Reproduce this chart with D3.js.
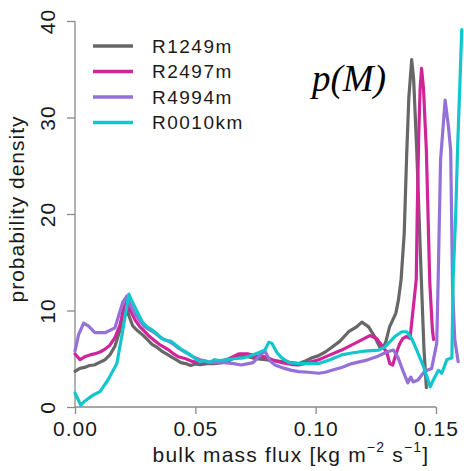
<!DOCTYPE html>
<html>
<head>
<meta charset="utf-8">
<script src="https://cdn.jsdelivr.net/npm/d3@7"></script>
<style>
  body { margin: 0; background: #fff; }
  svg { display: block; }
  text { font-family: "Liberation Sans", Arial, Helvetica, sans-serif; fill: #1a1a1a; }
</style>
</head>
<body>
<script>
// series labels and colours (legend order)
const seriesNames = ["R1249m", "R2497m", "R4994m", "R0010km"];
const seriesColors = ["#676767", "#d0259a", "#9470d8", "#11c6cc"];

const xTicks = [0, 0.05, 0.10, 0.15];
const yTicks = [0, 10, 20, 30, 40];

// [bulk mass flux, probability density]
const r1249m = [
  [0, 3.7], [0.002, 4.0], [0.004, 4.1], [0.006, 4.3], [0.008, 4.35], [0.010, 4.6],
  [0.0125, 4.9], [0.0145, 5.4], [0.0166, 6.3], [0.0187, 8.0], [0.0200, 10.0], [0.0212, 10.6],
  [0.0222, 9.6], [0.024, 8.4], [0.026, 7.9], [0.028, 7.5], [0.030, 7.0], [0.032, 6.5],
  [0.034, 6.2], [0.036, 5.8], [0.038, 5.5], [0.040, 5.2], [0.042, 4.9], [0.044, 4.6],
  [0.046, 4.5], [0.048, 4.3], [0.050, 4.45], [0.052, 4.4], [0.055, 4.5], [0.058, 4.5],
  [0.061, 4.6], [0.064, 4.8], [0.067, 5.2], [0.069, 5.4], [0.072, 5.2], [0.075, 5.0],
  [0.079, 4.9], [0.082, 4.8], [0.086, 4.7], [0.090, 4.6], [0.093, 4.5], [0.096, 4.8],
  [0.0985, 5.1], [0.101, 5.3], [0.104, 5.7], [0.107, 6.25], [0.110, 6.8], [0.1137, 7.8],
  [0.1170, 8.3], [0.1192, 8.8], [0.1220, 8.3], [0.1245, 7.3], [0.1265, 6.25], [0.1280, 6.1],
  [0.1292, 6.8], [0.1307, 8.3], [0.1320, 9.0], [0.1333, 9.7], [0.1344, 11.1], [0.1355, 13.2],
  [0.1368, 18.0], [0.1378, 26.0], [0.1387, 32.0], [0.1399, 36.0], [0.1407, 34.0],
  [0.1420, 26.6], [0.1439, 13.2], [0.1450, 6.0], [0.1460, 2.0]
];

const r2497m = [
  [0, 5.5], [0.0021, 4.9], [0.004, 5.2], [0.0062, 5.4], [0.008, 5.5], [0.0104, 5.7],
  [0.0125, 6.0], [0.0145, 6.4], [0.0166, 7.2], [0.0187, 8.5], [0.0205, 10.4], [0.0216, 11.0],
  [0.023, 10.0], [0.025, 9.0], [0.027, 8.3], [0.029, 7.8], [0.031, 7.3], [0.033, 6.9],
  [0.035, 6.5], [0.037, 6.2], [0.039, 5.9], [0.041, 5.5], [0.043, 5.2], [0.046, 5.0],
  [0.049, 4.7], [0.052, 4.6], [0.056, 4.6], [0.060, 4.7], [0.064, 5.0], [0.068, 5.5],
  [0.072, 5.5], [0.075, 5.3], [0.079, 5.2], [0.082, 4.9], [0.086, 4.6], [0.090, 4.4],
  [0.093, 4.35], [0.097, 4.6], [0.1013, 4.9], [0.105, 5.3], [0.1108, 5.9], [0.1179, 6.8],
  [0.1225, 7.4], [0.1253, 7.1], [0.1295, 5.7], [0.1308, 4.5], [0.1320, 4.35], [0.1335, 5.6],
  [0.1350, 6.6], [0.1362, 7.1], [0.1378, 7.3], [0.1392, 7.1], [0.1403, 9.7], [0.1418, 13.2],
  [0.1422, 20.0], [0.1428, 28.0], [0.1434, 33.0], [0.1440, 35.1], [0.1448, 33.0],
  [0.1460, 26.6], [0.1474, 13.0], [0.1485, 8.0], [0.1490, 7.0]
];

const r4994m = [
  [0, 5.8], [0.0015, 7.5], [0.0036, 8.7], [0.0055, 8.4], [0.0083, 7.7], [0.0125, 7.7],
  [0.0166, 8.2], [0.0199, 10.9], [0.0216, 11.5], [0.023, 10.6], [0.025, 9.6], [0.027, 8.9],
  [0.029, 8.3], [0.031, 8.0], [0.033, 7.7], [0.035, 7.3], [0.037, 7.0], [0.039, 6.8],
  [0.041, 6.5], [0.043, 6.1], [0.045, 5.8], [0.047, 5.5], [0.049, 5.2], [0.052, 4.9],
  [0.055, 4.7], [0.058, 4.6], [0.062, 4.6], [0.066, 4.5], [0.069, 4.35], [0.072, 4.5],
  [0.074, 4.6], [0.0775, 5.5], [0.0789, 5.8], [0.081, 4.8], [0.0831, 4.35], [0.087, 4.0],
  [0.090, 3.8], [0.093, 3.66], [0.097, 3.6], [0.1013, 3.5], [0.104, 3.6], [0.1067, 3.8],
  [0.1108, 4.1], [0.1150, 4.5], [0.1204, 4.8], [0.1253, 5.2], [0.1295, 5.7], [0.1323, 5.9],
  [0.1341, 5.2], [0.1362, 3.8], [0.1383, 2.5], [0.1395, 3.1], [0.1405, 2.6], [0.1425, 2.8],
  [0.1453, 3.7], [0.1482, 4.0], [0.1503, 6.6], [0.1509, 13.2], [0.1519, 25.6],
  [0.1538, 31.8], [0.1552, 29.0], [0.1561, 26.6], [0.1569, 12.1], [0.1578, 7.0], [0.1592, 4.7]
];

const r0010km = [
  [0, 1.45], [0.0024, 0.2], [0.004, 0.6], [0.0062, 1.0], [0.008, 1.3], [0.0104, 1.6],
  [0.0137, 2.8], [0.0174, 4.5], [0.0199, 8.0], [0.0215, 10.4], [0.0224, 11.7], [0.024, 10.8],
  [0.026, 9.8], [0.028, 8.8], [0.030, 8.3], [0.032, 8.0], [0.034, 7.6], [0.036, 7.1],
  [0.038, 6.9], [0.040, 6.8], [0.042, 6.4], [0.044, 6.0], [0.046, 5.7], [0.048, 5.4],
  [0.050, 5.0], [0.052, 4.7], [0.054, 4.8], [0.056, 4.6], [0.058, 4.9], [0.060, 4.8],
  [0.063, 4.9], [0.066, 5.0], [0.070, 5.1], [0.073, 5.3], [0.076, 5.6], [0.0789, 5.9],
  [0.0805, 6.7], [0.0818, 6.6], [0.0840, 5.6], [0.0859, 5.1], [0.089, 4.6], [0.093, 4.5],
  [0.097, 4.5], [0.1013, 4.5], [0.106, 4.9], [0.1108, 5.4], [0.1150, 5.6], [0.1204, 5.8],
  [0.1262, 5.9], [0.1287, 6.2], [0.1329, 7.3], [0.1358, 7.8], [0.1378, 7.8], [0.1399, 7.1],
  [0.1420, 5.9], [0.1448, 4.2], [0.1476, 2.1], [0.1489, 2.8], [0.1510, 3.8], [0.1524, 3.5],
  [0.1545, 4.9], [0.1566, 5.1], [0.1571, 13.2], [0.1582, 20.0], [0.1590, 27.0],
  [0.1600, 34.0], [0.1607, 39.1]
];

const allSeries = [r1249m, r2497m, r4994m, r0010km];

const width = 464, height = 471;
const margin = { top: 21, right: 28, bottom: 64, left: 75 };

const svg = d3.select("body").append("svg")
  .attr("width", width)
  .attr("height", height);

const x = d3.scaleLinear()
  .domain([0, 0.15])
  .range([margin.left, width - margin.right]);
const y = d3.scaleLinear()
  .domain([0, 40])
  .range([height - margin.bottom, margin.top]);

// axes, R style: line only over the tick range
const xAxis = svg.append("g")
  .attr("transform", `translate(0,${y(0)})`)
  .call(d3.axisBottom(x).tickValues(xTicks).tickFormat(d3.format(".2f")).tickSize(7).tickPadding(6));
const yAxis = svg.append("g")
  .attr("transform", `translate(${x(0)},0)`)
  .call(d3.axisLeft(y).tickValues(yTicks).tickSize(8).tickPadding(6));

[xAxis, yAxis].forEach(g => {
  g.select(".domain").attr("stroke", "#8a8a8a").attr("stroke-width", 1.3);
  g.selectAll(".tick line").attr("stroke", "#8a8a8a").attr("stroke-width", 1.3);
  g.selectAll(".tick text")
    .style("font-family", '"Liberation Sans", Arial, sans-serif')
    .style("font-size", "21px")
    .style("letter-spacing", "1px")
    .attr("fill", "#1a1a1a");
});
xAxis.select(".domain").attr("d", `M${x(0)},0H${x(0.15)}`);
yAxis.select(".domain").attr("d", `M0,${y(0)}V${y(40)}`);
xAxis.selectAll(".tick text").attr("dy", "0.71em").attr("y", 14);
yAxis.selectAll(".tick text")
  .attr("text-anchor", "middle")
  .attr("x", null).attr("dy", null)
  .attr("transform", "translate(-20,0) rotate(-90)");

// curves
const line = d3.line()
  .x(d => x(d[0]))
  .y(d => y(d[1]));

svg.append("g")
  .selectAll("path")
  .data(allSeries)
  .join("path")
  .attr("d", line)
  .attr("fill", "none")
  .attr("stroke", (d, i) => seriesColors[i])
  .attr("stroke-width", 3.2)
  .attr("stroke-linejoin", "round")
  .attr("stroke-linecap", "round");

// legend
const legend = svg.append("g").attr("transform", "translate(93,46)");
const item = legend.selectAll("g")
  .data(seriesNames)
  .join("g")
  .attr("transform", (d, i) => `translate(0,${i * 25.5})`);
item.append("line")
  .attr("x1", 0).attr("x2", 40)
  .attr("stroke", (d, i) => seriesColors[i])
  .attr("stroke-width", 3.5);
item.append("text")
  .attr("x", 59)
  .attr("dy", "0.36em")
  .style("font-size", "19px")
  .style("letter-spacing", "1.5px")
  .text(d => d);

// annotation
svg.append("text")
  .attr("x", 312)
  .attr("y", 91)
  .style("font-family", '"Liberation Serif", "Times New Roman", serif')
  .style("font-style", "italic")
  .style("font-size", "37px")
  .style("fill", "#000")
  .text("p(M)");

// axis titles
const xTitle = svg.append("text")
  .attr("x", 291)
  .attr("y", 462)
  .attr("text-anchor", "middle")
  .style("font-size", "21px")
  .style("letter-spacing", "1.2px");
xTitle.append("tspan").text("bulk mass flux [kg m");
xTitle.append("tspan").attr("dy", -10).style("font-size", "14px").text("\u22122");
xTitle.append("tspan").attr("dy", 10).text(" s");
xTitle.append("tspan").attr("dy", -10).style("font-size", "14px").text("\u22121");
xTitle.append("tspan").attr("dy", 10).text("]");

svg.append("text")
  .attr("transform", `translate(24,${(y(0) + y(40)) / 2 - 5}) rotate(-90)`)
  .attr("text-anchor", "middle")
  .style("font-size", "21px")
  .style("letter-spacing", "1px")
  .text("probability density");
</script>
</body>
</html>
